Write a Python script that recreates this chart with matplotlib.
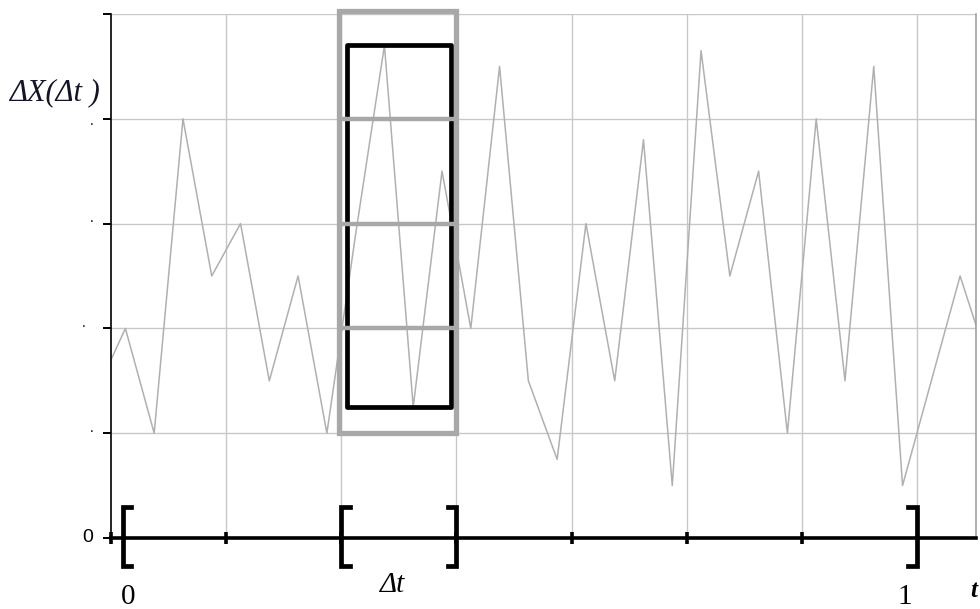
import matplotlib
matplotlib.use("Agg")
import matplotlib.pyplot as plt
from matplotlib.patches import Rectangle
import numpy as np

# ---- data ----
# sample index k -> position (k + 0.5) / 4 in grid units
sample_idx = list(range(-1, 31))
values = [1.4, 2.0, 1.0, 4.0, 2.5, 3.0, 1.5, 2.5, 1.0, 2.9, 4.7, 1.25, 3.5, 2.0,
          4.5, 1.5, 0.75, 3.0, 1.5, 3.8, 0.5, 4.65, 2.5, 3.5, 1.0, 4.0, 1.5, 4.5,
          0.5, 1.5, 2.5, 1.65]
y_levels = [0, 1, 2, 3, 4, 5]
x_grid = [1, 2, 3, 4, 5, 6, 7]
x_ticks = [0, 1, 2, 3, 4, 5, 6]
window = [2, 3]           # the Δt interval (grid units)
x_max = 7.513

xs = (np.array(sample_idx) + 0.5) / 4.0
ys = np.array(values)

W, H = 980, 609
fig = plt.figure(figsize=(W / 100, H / 100), dpi=100)
ax = fig.add_axes([111 / W, (H - 538) / H, (976 - 111) / W, (538 - 14) / H])
ax.set_xlim(0, x_max)
ax.set_ylim(0, 5)

grid_c = "#c8c8c8"
for yv in y_levels[1:]:
    ax.axhline(yv, color=grid_c, lw=1.0, zorder=1)
for xv in x_grid:
    ax.axvline(xv, color=grid_c, lw=1.0, zorder=1)

# signal
ax.plot(xs, ys, color="#b0b0b0", lw=1.1, zorder=2)

# black range box over the window
inwin = (xs >= window[0]) & (xs <= window[1])
ymin, ymax = ys[inwin].min(), ys[inwin].max()
ax.add_patch(Rectangle((window[0] + 0.05, ymin), (window[1] - window[0]) - 0.1,
                       ymax - ymin, fill=False, ec="black", lw=3.4,
                       joinstyle="round", zorder=4, clip_on=False))

# gray box-counting cells
lo, hi = np.floor(ymin), np.ceil(ymax)
gray = "#a8a8a8"
ax.add_patch(Rectangle((window[0] - 0.02, lo), (window[1] - window[0]) + 0.02,
                       hi - lo + 0.03, fill=False, ec=gray, lw=3.8,
                       joinstyle="miter", zorder=5, clip_on=False))
for lev in np.arange(lo + 1, hi):
    ax.plot([window[0], window[1]], [lev, lev], color=gray, lw=3.2, zorder=5,
            solid_capstyle="butt")

# spines
ax.spines["top"].set_visible(False)
ax.spines["right"].set_color("#a0a0a0")
ax.spines["right"].set_linewidth(1.2)
ax.spines["left"].set_color("black")
ax.spines["left"].set_linewidth(1.2)
ax.spines["left"].set_bounds(-0.05, 5)
ax.spines["bottom"].set_color("black")
ax.spines["bottom"].set_linewidth(2.6)
ax.spines["bottom"].set_zorder(6)

ax.set_yticks(y_levels)
ax.set_yticklabels([""] * len(y_levels))
ax.tick_params(axis="y", direction="out", length=6, width=1.4, color="black")
ax.set_xticks(x_ticks)
ax.set_xticklabels([""] * len(x_ticks))
ax.tick_params(axis="x", direction="inout", length=9, width=2.6, color="black")

# brackets on the time axis
brackets = [(0.1, "["), (2.0, "["), (3.0, "]"), (7.0, "]")]
arm = 0.075
bt, bb = 0.30, -0.27
for bx, kind in brackets:
    d = arm if kind == "[" else -arm
    ax.plot([bx + d, bx, bx, bx + d], [bt, bt, bb, bb], color="black", lw=3.4,
            solid_joinstyle="miter", clip_on=False, zorder=7)

# texts
serif = ["Liberation Serif", "DejaVu Serif"]
fig.text(9 / W, 1 - 93 / H, "ΔX(Δt )", family=serif, style="italic",
         fontsize=22, ha="left", va="center", color="#141428")
ax.text(-23 / 115, 0, "0", family=["Liberation Sans", "DejaVu Sans"],
        fontsize=14, ha="center", va="center", color="black",
        clip_on=False)
for lev, dx, dy in zip(y_levels[1:5], [-19, -27, -19, -19], [0.05, 0.05, 0.05, -0.02]):
    ax.text(dx / 115, lev + dy, ".", family=["Liberation Sans"], fontsize=10,
            ha="center", va="center", color="black", clip_on=False)
ax.text(0.15, -0.56, "0", family=serif, fontsize=21, ha="center",
        va="center", color="black", clip_on=False)
ax.text(6.89, -0.56, "1", family=serif, fontsize=21, ha="center",
        va="center", color="black", clip_on=False)
ax.text(2.45, -0.45, "Δt", family=serif, style="italic", fontsize=21,
        ha="center", va="center", color="black", clip_on=False)
ax.text(7.49, -0.5, "t", family=serif, style="italic", weight="bold",
        fontsize=18, ha="center", va="center", color="black", clip_on=False)

fig.savefig("out.png", dpi=100, facecolor="white")
